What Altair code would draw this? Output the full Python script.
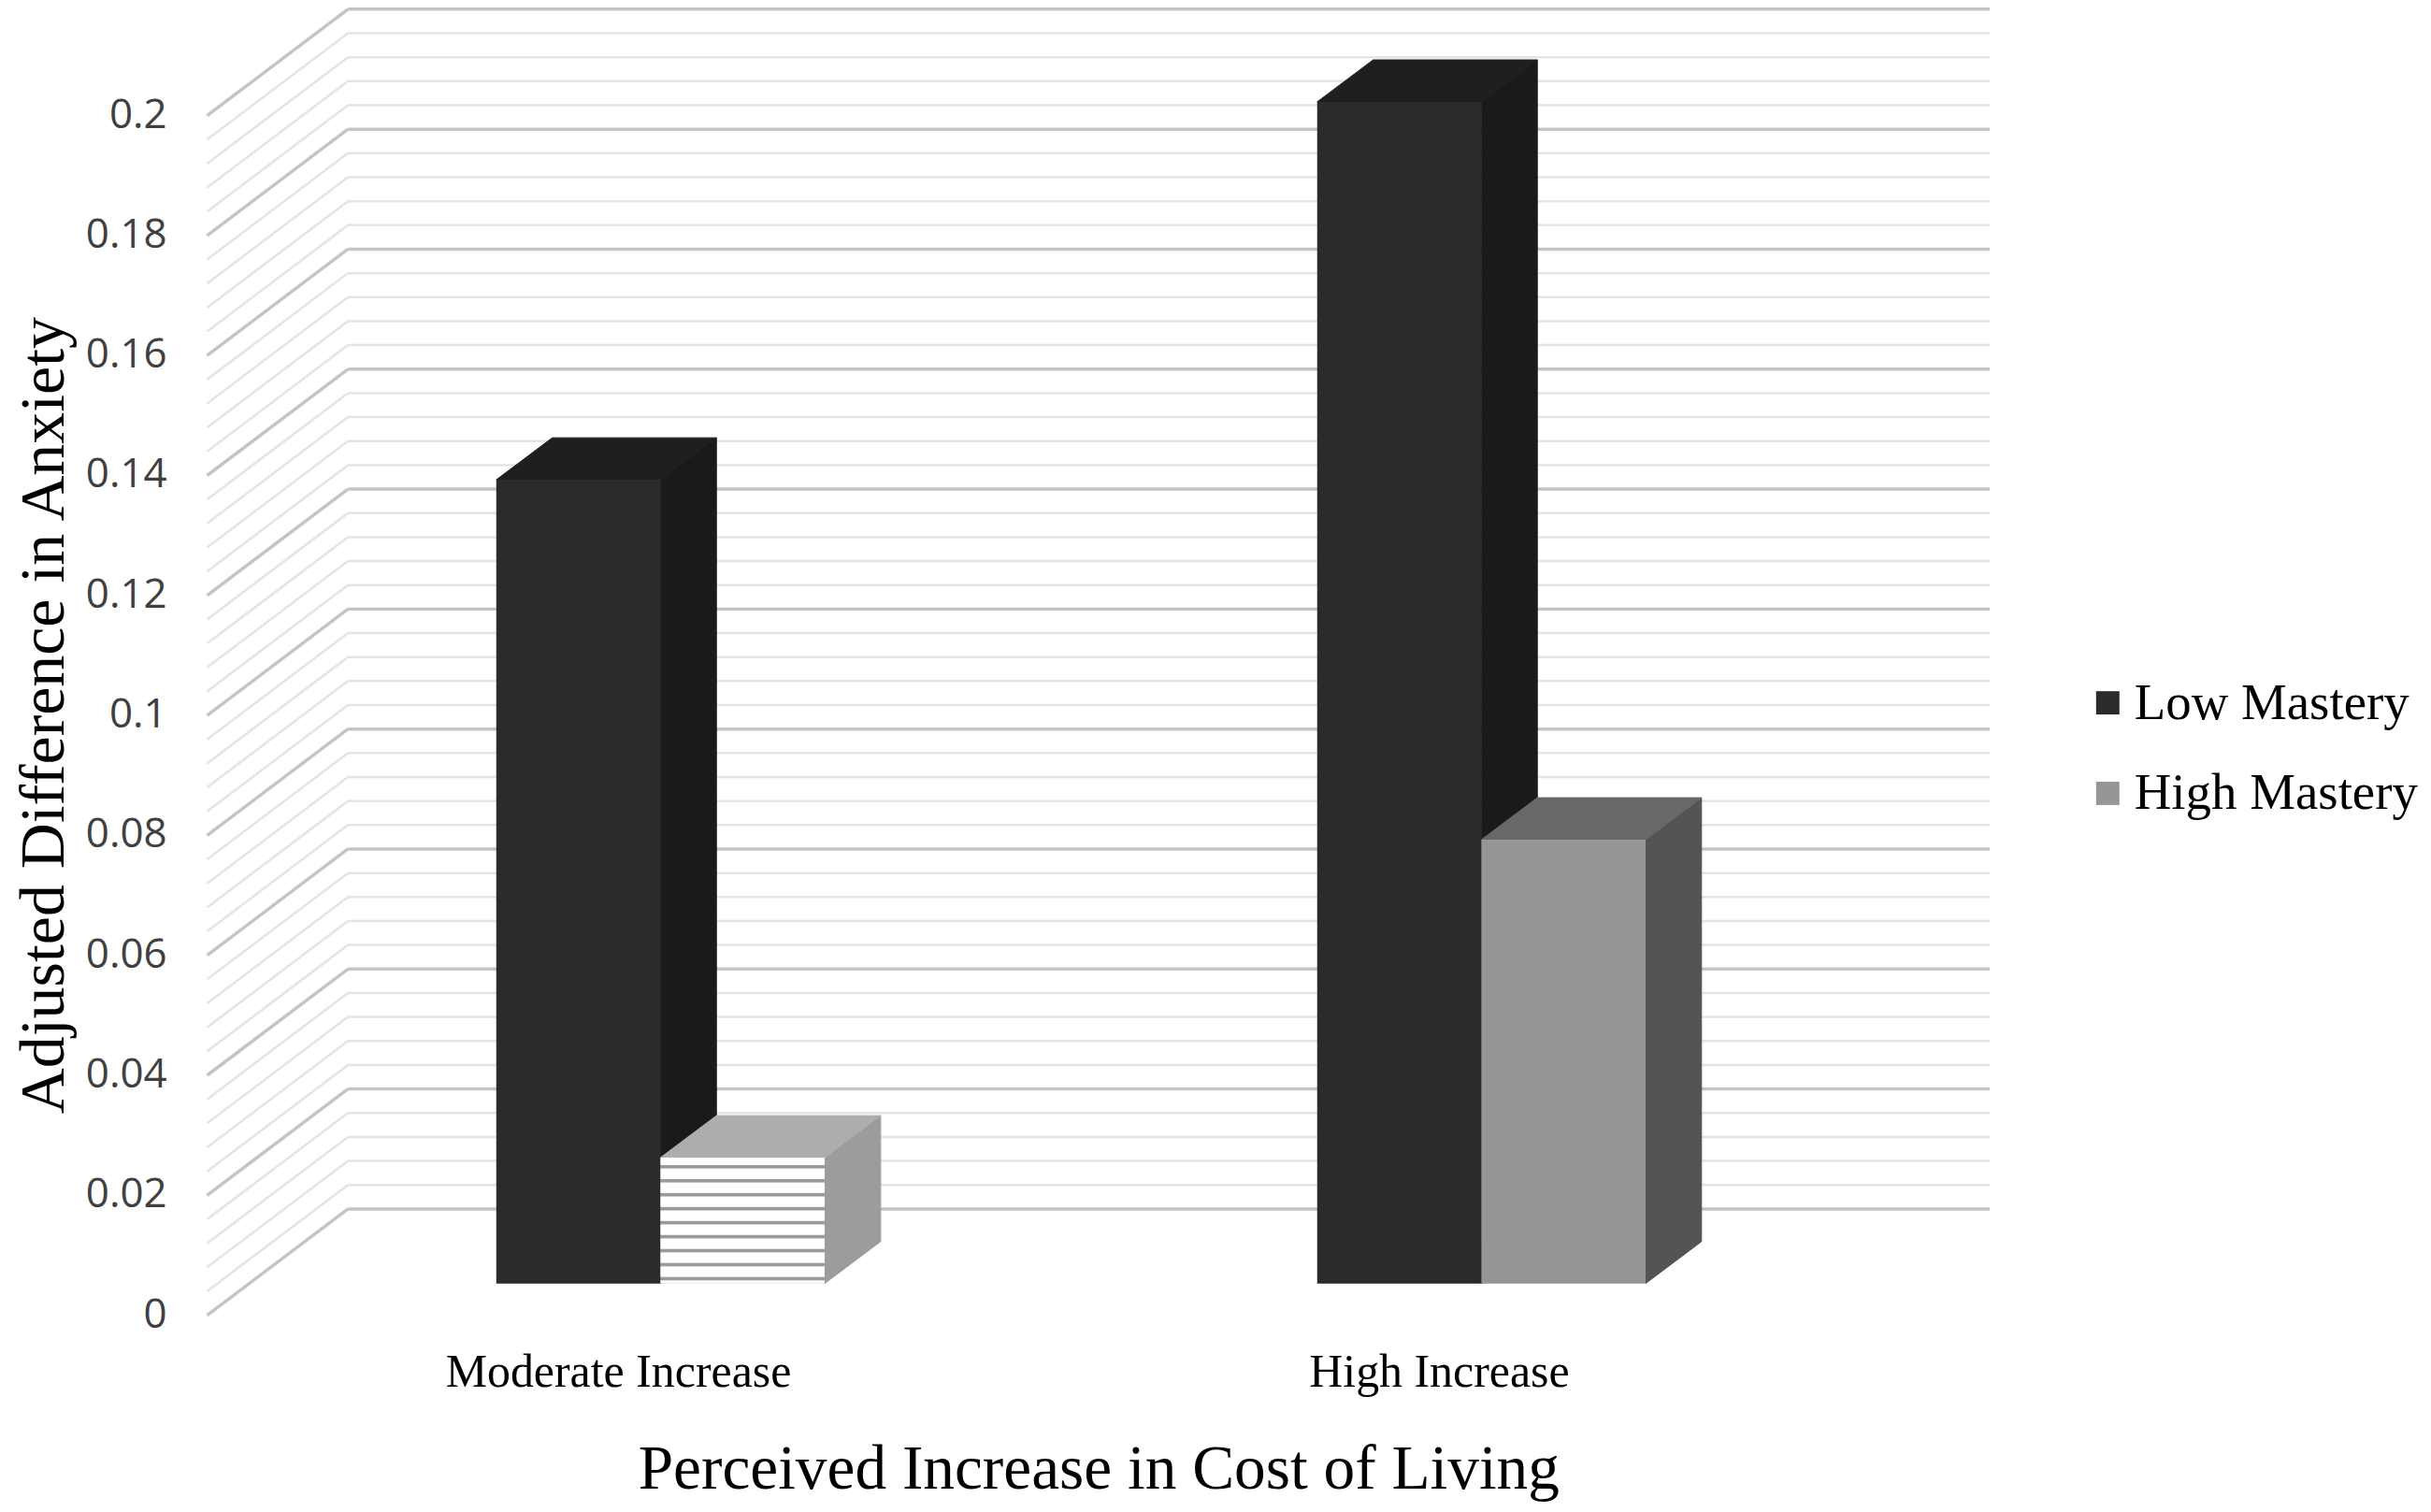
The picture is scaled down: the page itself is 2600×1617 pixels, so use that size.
import altair as alt
import pandas as pd

# ---------------- data ----------------
categories = ["Moderate Increase", "High Increase"]
series = ["Low Mastery", "High Mastery"]
low_mastery = [0.134, 0.197]
high_mastery = [0.021, 0.074]
tick_values = [0, 0.02, 0.04, 0.06, 0.08, 0.1, 0.12, 0.14, 0.16, 0.18, 0.2]
tick_labels = ["0", "0.02", "0.04", "0.06", "0.08", "0.1", "0.12", "0.14", "0.16", "0.18", "0.2"]
minor_step = 0.004
x_title = "Perceived Increase in Cost of Living"
y_title = "Adjusted Difference in Anxiety"
patterned_bar = ("Moderate Increase", "High Mastery")

# ---------------- layout / style (pixels) ----------------
W, H = 2590, 1609
PX_PER_CAT = 880          # pixels between category groups
GROUP0_X = 700            # pixel x of first group centre (bar plane)
ZERO_Y = 1366             # pixel y of value 0 in the bar plane
PX_PER_UNIT = 6430        # pixels per 1.0 of value
BAR_W = 0.2               # bar width in category units
DEPTH_DX, DEPTH_DY = 60, 45
FRONT_DX, FRONT_DY = -45, 34
BACK_DY = -80
WALL_FRONT_X, WALL_BACK_X, WALL_RIGHT_X = 214, 365, 2125

front_colors = ["#2b2b2b", "#969696"]
side_colors = ["#1a1a1a", "#545454"]
top_colors = ["#1f1f1f", "#686868"]
pattern_side, pattern_top = "#9c9c9c", "#adadad"

xs = alt.Scale(domain=[-GROUP0_X / PX_PER_CAT, (W - GROUP0_X) / PX_PER_CAT], nice=False, zero=False)
ys = alt.Scale(domain=[(ZERO_Y - H) / PX_PER_UNIT, ZERO_Y / PX_PER_UNIT], nice=False, zero=False)
dxu = DEPTH_DX / PX_PER_CAT
dyu = DEPTH_DY / PX_PER_UNIT

fronts, sides, tops = [], [], []
for ci, cat in enumerate(categories):
    for si, (ser, vals) in enumerate(zip(series, [low_mastery, high_mastery])):
        v = vals[ci]
        x0 = ci + (si - 1) * BAR_W
        x1 = x0 + BAR_W
        pat = (cat, ser) == patterned_bar
        bid = f"{cat}|{ser}"
        sc = pattern_side if pat else side_colors[si]
        tc = pattern_top if pat else top_colors[si]
        fronts.append(dict(cat=cat, series=ser, x0=x0, x1=x1, v=v, zero=0.0, pattern=pat))
        sides.append(dict(bar=bid, x=x1, lo=0.0, hi=v, col=sc))
        sides.append(dict(bar=bid, x=x1 + dxu, lo=dyu, hi=v + dyu, col=sc))
        tops.append(dict(bar=bid, y=v, xa=x0, xb=x1, col=tc))
        tops.append(dict(bar=bid, y=v + dyu, xa=x0 + dxu, xb=x1 + dxu, col=tc))

front_df = pd.DataFrame(fronts)
side_df = pd.DataFrame(sides)
top_df = pd.DataFrame(tops)
grid_df = pd.DataFrame({"v": [round(i * minor_step, 4) for i in range(51)]})
grid_df["major"] = [i % 5 == 0 for i in range(51)]
tick_df = pd.DataFrame({"v": tick_values, "label": tick_labels})
cat_df = pd.DataFrame({"ci": list(range(len(categories))), "cat": categories})

Y = lambda f: alt.Y(f, scale=ys, axis=None)
X = lambda f: alt.X(f, scale=xs, axis=None)

minor = grid_df[~grid_df["major"]]
major = grid_df[grid_df["major"]]

def back_rules(df, color, width):
    return alt.Chart(df).mark_rule(yOffset=BACK_DY, color=color, strokeWidth=width).encode(
        x=alt.value(WALL_BACK_X), x2=alt.value(WALL_RIGHT_X), y=Y("v:Q"))

def side_rules(df, color, width):
    return alt.Chart(df).mark_rule(yOffset=FRONT_DY, y2Offset=BACK_DY, color=color, strokeWidth=width).encode(
        x=alt.value(WALL_FRONT_X), x2=alt.value(WALL_BACK_X), y=Y("v:Q"), y2=alt.Y2("v"))

minor_c, major_c = "#e4e4e4", "#c4c4c4"
walls = [back_rules(minor, minor_c, 2.5), side_rules(minor, minor_c, 2.5),
         back_rules(major, major_c, 3.5), side_rules(major, major_c, 3.5)]

side_layer = alt.Chart(side_df).mark_area(opacity=1, strokeWidth=1).encode(
    x=X("x:Q"), y=Y("hi:Q"), y2=alt.Y2("lo"), detail="bar:N",
    fill=alt.Fill("col:N", scale=None), stroke=alt.Stroke("col:N", scale=None))

top_layer = alt.Chart(top_df).mark_area(orient="horizontal", opacity=1, strokeWidth=1).encode(
    y=Y("y:Q"), x=X("xa:Q"), x2=alt.X2("xb"), detail="bar:N",
    fill=alt.Fill("col:N", scale=None), stroke=alt.Stroke("col:N", scale=None))

front_layer = alt.Chart(front_df).mark_rect().encode(
    x=X("x0:Q"), x2=alt.X2("x1"), y=Y("v:Q"), y2=alt.Y2("zero"),
    color=alt.Color("series:N", scale=alt.Scale(domain=series, range=front_colors),
                    legend=alt.Legend(title=None, orient="none", legendX=2224, legendY=716,
                                      symbolType="square", symbolSize=625, symbolStrokeWidth=0,
                                      labelFont="Liberation Serif", labelFontSize=55,
                                      labelColor="#000000", labelOffset=1, rowPadding=41,
                                      padding=0, labelLimit=0)))

stops = []
n_wave = 9
for k in range(n_wave):
    b, p = k / n_wave, 1 / n_wave
    stops += [{"offset": b, "color": "#ffffff"},
              {"offset": b + 0.50 * p, "color": "#ffffff"},
              {"offset": b + 0.55 * p, "color": "#9a9a9a"},
              {"offset": b + 0.75 * p, "color": "#9a9a9a"},
              {"offset": b + 0.80 * p, "color": "#ffffff"}]
stops.append({"offset": 1, "color": "#ffffff"})
gradient = {"gradient": "linear", "x1": 0, "y1": 0, "x2": 0, "y2": 1, "stops": stops}

pattern_layer = alt.Chart(front_df).transform_filter("datum.pattern").mark_rect(fill=gradient).encode(
    x=X("x0:Q"), x2=alt.X2("x1"), y=Y("v:Q"), y2=alt.Y2("zero"))

tick_layer = alt.Chart(tick_df).mark_text(align="right", baseline="middle", yOffset=FRONT_DY,
                                          font="Open Sans", fontSize=44, color="#404040").encode(
    x=alt.value(171), y=Y("v:Q"), text="label:N")

cat_layer = alt.Chart(cat_df).mark_text(align="center", baseline="alphabetic", xOffset=FRONT_DX,
                                        font="Liberation Serif", fontSize=50, color="#000000").encode(
    x=X("ci:Q"), y=alt.value(1477), text="cat:N")

xt_layer = alt.Chart(pd.DataFrame({"t": [x_title]})).mark_text(
    align="center", baseline="alphabetic", font="Liberation Serif", fontSize=67.5, color="#000000").encode(
    x=alt.value(1170), y=alt.value(1586), text="t:N")

yt_layer = alt.Chart(pd.DataFrame({"t": [y_title]})).mark_text(
    align="center", baseline="alphabetic", angle=270, font="Liberation Serif", fontSize=68,
    color="#000000").encode(x=alt.value(60), y=alt.value(757), text="t:N")

chart = alt.layer(*walls, side_layer, top_layer, front_layer, pattern_layer,
                  tick_layer, cat_layer, xt_layer, yt_layer).properties(
    width=W, height=H, autosize=alt.AutoSizeParams(type="none"), padding=0, background="white"
).configure_view(stroke=None)

chart.save("out.html", embed_options={"renderer": "svg", "actions": False})
